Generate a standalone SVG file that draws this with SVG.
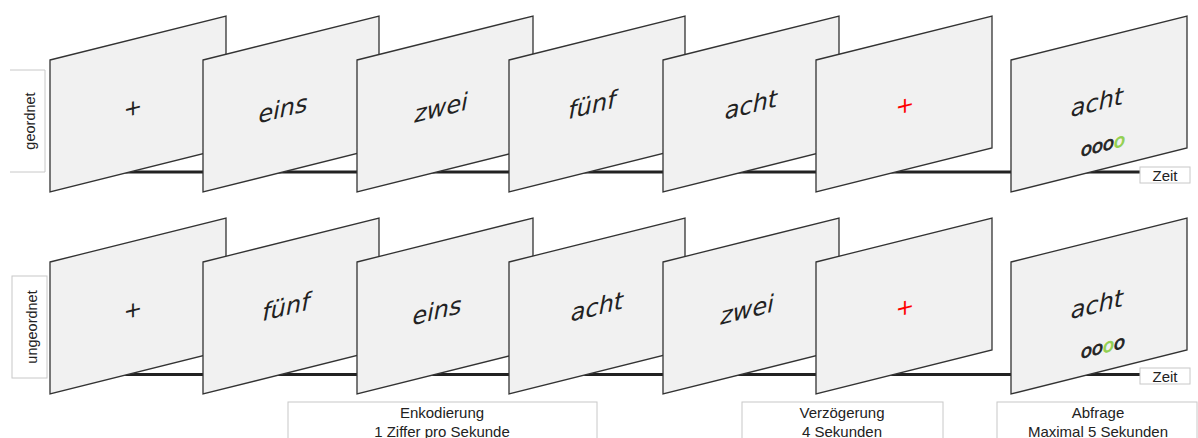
<svg xmlns="http://www.w3.org/2000/svg" width="1198" height="438" viewBox="0 0 1198 438">
<style>
.card{fill:#f1f1f1;stroke:#333;stroke-width:1.3}
.w{font-family:"DejaVu Sans",sans-serif;font-style:italic;font-size:24px;fill:#222;text-anchor:middle}
.p{font-family:"DejaVu Sans",sans-serif;font-style:italic;font-size:22px;fill:#222;text-anchor:middle}
.red{fill:#ff0000}
.o{font-family:"DejaVu Sans",sans-serif;font-style:italic;font-size:18px;fill:#222;stroke:#222;stroke-width:0.8;text-anchor:middle}
.g{fill:#92d050;stroke:#92d050}
.box{fill:#fff;stroke:#c8c8c8;stroke-width:1}
.lbl{font-family:"Liberation Sans",Arial,sans-serif;font-size:15px;fill:#222;text-anchor:middle}
.tl{stroke:#222;stroke-width:3;fill:none}
</style>
<defs>
<polygon id="cardshape" class="card" points="0,0 176,-44 176,88 0,132"/>
</defs>

<g id="row-labels">
<path class="box" fill="none" d="M10,70 H45 V172 H10"/>
<text class="lbl" transform="translate(34.5,121) rotate(-90)" style="font-size:14.5px">geordnet</text>
<rect class="box" x="12" y="276" width="35" height="102"/>
<text class="lbl" transform="translate(36.5,327) rotate(-90)" style="font-size:14.5px">ungeordnet</text>
</g>

<g id="connectors">
<line class="tl" x1="60" y1="172" x2="1140" y2="172"/>
<line class="tl" x1="60" y1="374.5" x2="1140" y2="374.5"/>
</g>

<g id="zeit-top">
<rect class="box" x="1140" y="167" width="50" height="16"/>
<text class="lbl" x="1165" y="181">Zeit</text>
</g>
<g id="zeit-bottom">
<rect class="box" x="1140" y="368" width="50" height="16"/>
<text class="lbl" x="1165" y="382">Zeit</text>
</g>

<!-- top row -->
<g id="t1" transform="translate(50,60)"><use href="#cardshape"/><g transform="skewY(-14.04)"><text class="p" x="83" y="76">+</text></g></g>
<g id="t2" transform="translate(203,60)"><use href="#cardshape"/><g transform="skewY(-14.04)"><text class="w" x="80" y="77">eins</text></g></g>
<g id="t3" transform="translate(357,60)"><use href="#cardshape"/><g transform="skewY(-14.04)"><text class="w" x="84" y="77">zwei</text></g></g>
<g id="t4" transform="translate(509,60)"><use href="#cardshape"/><g transform="skewY(-14.04)"><text class="w" x="83" y="74">fünf</text></g></g>
<g id="t5" transform="translate(663,60)"><use href="#cardshape"/><g transform="skewY(-14.04)"><text class="w" x="88" y="75">acht</text></g></g>
<g id="t6" transform="translate(816,60)"><use href="#cardshape"/><g transform="skewY(-14.04)"><text class="p red" x="89" y="75">+</text></g></g>
<g id="t7" transform="translate(1011,60)"><use href="#cardshape"/><g transform="skewY(-14.04)"><text class="w" x="86" y="72">acht</text><text class="o" x="92" y="114">ooo<tspan class="g">o</tspan></text></g></g>

<!-- bottom row -->
<g id="b1" transform="translate(50,262)"><use href="#cardshape"/><g transform="skewY(-14.04)"><text class="p" x="83" y="76">+</text></g></g>
<g id="b2" transform="translate(203,262)"><use href="#cardshape"/><g transform="skewY(-14.04)"><text class="w" x="83" y="74">fünf</text></g></g>
<g id="b3" transform="translate(357,262)"><use href="#cardshape"/><g transform="skewY(-14.04)"><text class="w" x="80" y="77">eins</text></g></g>
<g id="b4" transform="translate(509,262)"><use href="#cardshape"/><g transform="skewY(-14.04)"><text class="w" x="88" y="75">acht</text></g></g>
<g id="b5" transform="translate(663,262)"><use href="#cardshape"/><g transform="skewY(-14.04)"><text class="w" x="84" y="77">zwei</text></g></g>
<g id="b6" transform="translate(816,262)"><use href="#cardshape"/><g transform="skewY(-14.04)"><text class="p red" x="89" y="75">+</text></g></g>
<g id="b7" transform="translate(1011,262)"><use href="#cardshape"/><g transform="skewY(-14.04)"><text class="w" x="86" y="72">acht</text><text class="o" x="92" y="114">oo<tspan class="g">o</tspan>o</text></g></g>

<g id="phase-enkodierung">
<rect class="box" x="288" y="402" width="309" height="45"/>
<text class="lbl" x="442" y="418">Enkodierung</text>
<text class="lbl" x="442" y="437">1 Ziffer pro Sekunde</text>
</g>
<g id="phase-verzoegerung">
<rect class="box" x="742" y="402" width="201" height="45"/>
<text class="lbl" x="842" y="418">Verzögerung</text>
<text class="lbl" x="842" y="437">4 Sekunden</text>
</g>
<g id="phase-abfrage">
<rect class="box" x="997" y="402" width="200" height="45"/>
<text class="lbl" x="1098" y="418">Abfrage</text>
<text class="lbl" x="1098" y="437">Maximal 5 Sekunden</text>
</g>
</svg>
